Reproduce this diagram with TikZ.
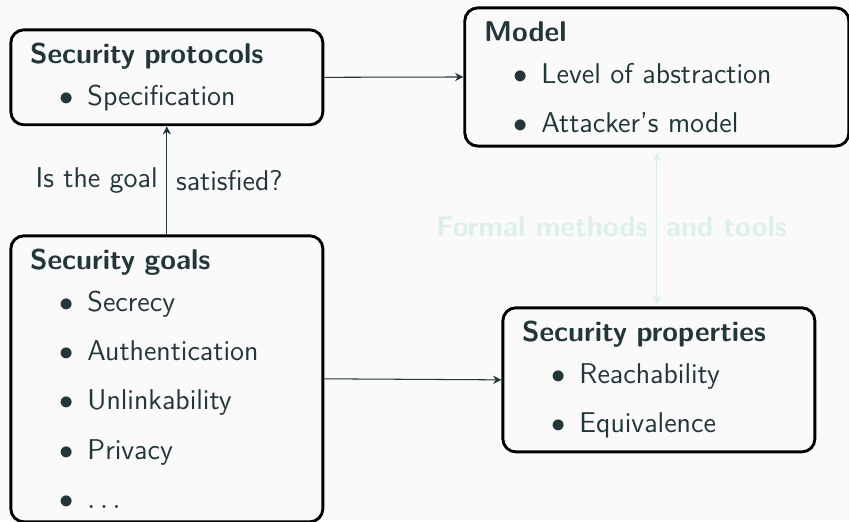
\documentclass[tikz,border=0pt]{standalone}
\usepackage{xcolor}
\usepackage{tikz}
\usetikzlibrary{positioning,arrows.meta}

\definecolor{tealdark}{HTML}{23373B}
\definecolor{mintpale}{HTML}{DCEFE8}
\definecolor{pagebg}{HTML}{FAFAFA}

\newcommand{\entry}{\hspace*{11.3pt}$\bullet$\hspace{5.3pt}}

\tikzset{
  panel/.style={draw=black, line width=1.1pt, rounded corners=5pt, align=left,
    anchor=north west, inner xsep=7.4pt, inner ysep=5.2pt, text=tealdark},
  link/.style={-{Stealth[length=3.2pt,width=3.2pt]}, tealdark},
}

\begin{document}
\begin{tikzpicture}[font=\fontsize{11}{13.6}\selectfont\sffamily]
\fill[pagebg] (0,0) rectangle (11.475,-7.042);
\useasboundingbox (0,0) rectangle (11.475,-7.042);
% four boxes: protocols and goals on the left, model and properties on the right
\node[panel, text width=105.2pt] (proto) at (0.127,-0.384)
  {\textbf{Security protocols}\\[2.5pt]\entry Specification};
\node[panel, text width=132.9pt] (model) at (6.263,-0.087)
  {\textbf{Model}\\[2.5pt]\entry Level of abstraction\\[5.3pt]\entry Attacker's model};
\node[panel, text width=105.2pt] (goals) at (0.127,-3.168)
  {\textbf{Security goals}\\[2.5pt]\entry Secrecy\\[5.3pt]\entry Authentication\\[5.3pt]\entry Unlinkability\\[5.3pt]\entry Privacy\\[5.3pt]\entry $\ldots$};
\node[panel, text width=105.2pt] (props) at (6.777,-4.141)
  {\textbf{Security properties}\\[2.5pt]\entry Reachability\\[5.3pt]\entry Equivalence};
% connectors
\draw[link] (proto.east) -- (model.west);
\draw[link] (goals.east) -- (props.west);
\draw[link] (goals.north) -- (proto.south)
  node[midway, left, text=tealdark] {Is the goal}
  node[midway, right, text=tealdark] {satisfied?};
\draw[{Stealth[length=3.2pt,width=3.2pt]}-{Stealth[length=3.2pt,width=3.2pt]}, mintpale, shorten <=2pt, shorten >=1pt]
  (model.south) -- (model.south |- props.north)
  node[midway, left] {\textbf{Formal methods}}
  node[midway, right] {\textbf{and tools}};
\end{tikzpicture}
\end{document}
